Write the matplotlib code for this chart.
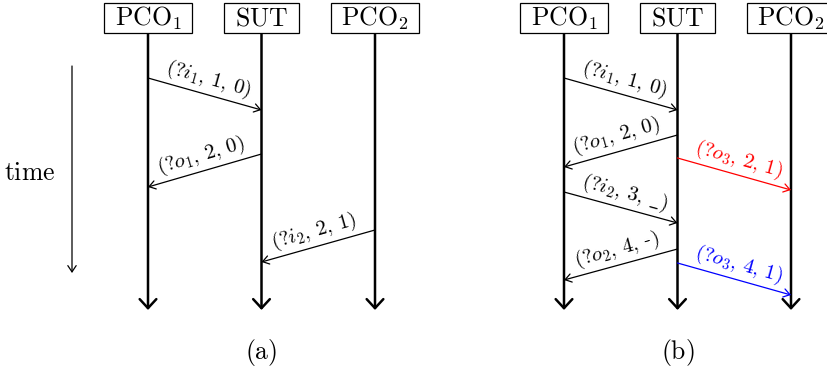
import math
import matplotlib
matplotlib.use("Agg")
import matplotlib.pyplot as plt
from matplotlib.patches import FancyArrowPatch, Rectangle

plt.rcParams['mathtext.fontset'] = 'cm'
plt.rcParams['font.family'] = ['DejaVu Serif']

# lifeline names
lifelines = [r'$\mathrm{PCO}_1$', r'$\mathrm{SUT}$', r'$\mathrm{PCO}_2$']

# panel (a): sender, receiver, send time, receive time, label, colour
senders_a = [0, 1, 2]
receivers_a = [1, 0, 1]
send_t_a = [78, 154, 230]
recv_t_a = [110, 187, 262]
labels_a = [r'$(?i_1,\,\mathit{1},\,\mathit{0})$',
            r'$(?o_1,\,2,\,0)$',
            r'$(?i_2,\,2,\,1)$']
colors_a = ['black', 'black', 'black']

# panel (b)
senders_b = [0, 1, 1, 0, 1, 1]
receivers_b = [1, 0, 2, 1, 0, 2]
send_t_b = [78, 135, 158, 192, 249, 263]
recv_t_b = [110, 167, 190, 223, 280, 295]
labels_b = [r'$(?i_1,\,\mathit{1},\,\mathit{0})$',
            r'$(?o_1,\,2,\,0)$',
            r'$(?o_3,\,\mathit{2},\,\mathit{1})$',
            r'$(?i_2,\,3,\,\_)$',
            r'$(?o_2,\,4,\,$-$)$',
            r'$(?o_3,\,\mathit{4},\,\mathit{1})$']
colors_b = ['black', 'black', 'red', 'black', 'black', 'blue']

captions = [r'$\mathrm{(a)}$', r'$\mathrm{(b)}$']

# layout (pixels)
W, H = 828, 375
X0 = 148          # first lifeline x within panel
DX = 113.5        # lifeline spacing
PANEL_OFF = [0, 416]
BOX_TOP, BOX_BOT = 3, 33
LIFE_END = 310

fig = plt.figure(figsize=(W / 100, H / 100), dpi=100)
ax = fig.add_axes([0, 0, 1, 1])
ax.set_xlim(0, W)
ax.set_ylim(H, 0)
ax.axis('off')
renderer = fig.canvas.get_renderer()


def arrow(x1, y1, x2, y2, color='black', lw=0.9, hl=0.45, hw=0.3):
    p = FancyArrowPatch((x1, y1), (x2, y2),
                        arrowstyle=f'->,head_length={hl},head_width={hw}',
                        mutation_scale=10, color=color, lw=lw,
                        shrinkA=0, shrinkB=0)
    ax.add_patch(p)


def draw_panel(off, senders, receivers, t_send, t_recv, labels, colors, caption):
    xs = [off + X0 + i * DX for i in range(len(lifelines))]
    for x, name in zip(xs, lifelines):
        t = ax.text(x, (BOX_TOP + BOX_BOT) / 2 + 0.5, name, fontsize=18.5,
                    ha='center', va='center', zorder=3)
        w = t.get_window_extent(renderer).width + 21
        ax.add_patch(Rectangle((x - w / 2, BOX_TOP), w, BOX_BOT - BOX_TOP,
                               fc='white', ec='black', lw=0.9, zorder=2))
        arrow(x, BOX_BOT, x, LIFE_END, lw=1.8, hl=0.65, hw=0.6)
    for s, r, t1, t2, lab, c in zip(senders, receivers, t_send, t_recv, labels, colors):
        x1, x2 = xs[s], xs[r]
        arrow(x1, t1, x2, t2, color=c)
        # text angle in screen coords (y up)
        dx, dy = x2 - x1, -(t2 - t1)
        ang = math.degrees(math.atan2(dy, dx))
        if ang > 90:
            ang -= 180
        elif ang < -90:
            ang += 180
        a = math.radians(ang)
        nx, ny = -math.sin(a), math.cos(a)   # normal pointing up
        off_px = 15
        mx, my = (x1 + x2) / 2, (t1 + t2) / 2
        ax.text(mx + nx * off_px, my - ny * off_px, lab, color=c, fontsize=15,
                rotation=ang, rotation_mode='anchor', ha='center', va='center')
    ax.text(xs[1], 353, caption, fontsize=18.5, ha='center', va='center')


draw_panel(PANEL_OFF[0], senders_a, receivers_a, send_t_a, recv_t_a,
           labels_a, colors_a, captions[0])
draw_panel(PANEL_OFF[1], senders_b, receivers_b, send_t_b, recv_t_b,
           labels_b, colors_b, captions[1])

# time axis
arrow(72, 66, 72, 273, lw=0.9)
ax.text(30, 172, r'$\mathrm{time}$', fontsize=18.5, ha='center', va='center')

fig.savefig('out.png', dpi=100)
